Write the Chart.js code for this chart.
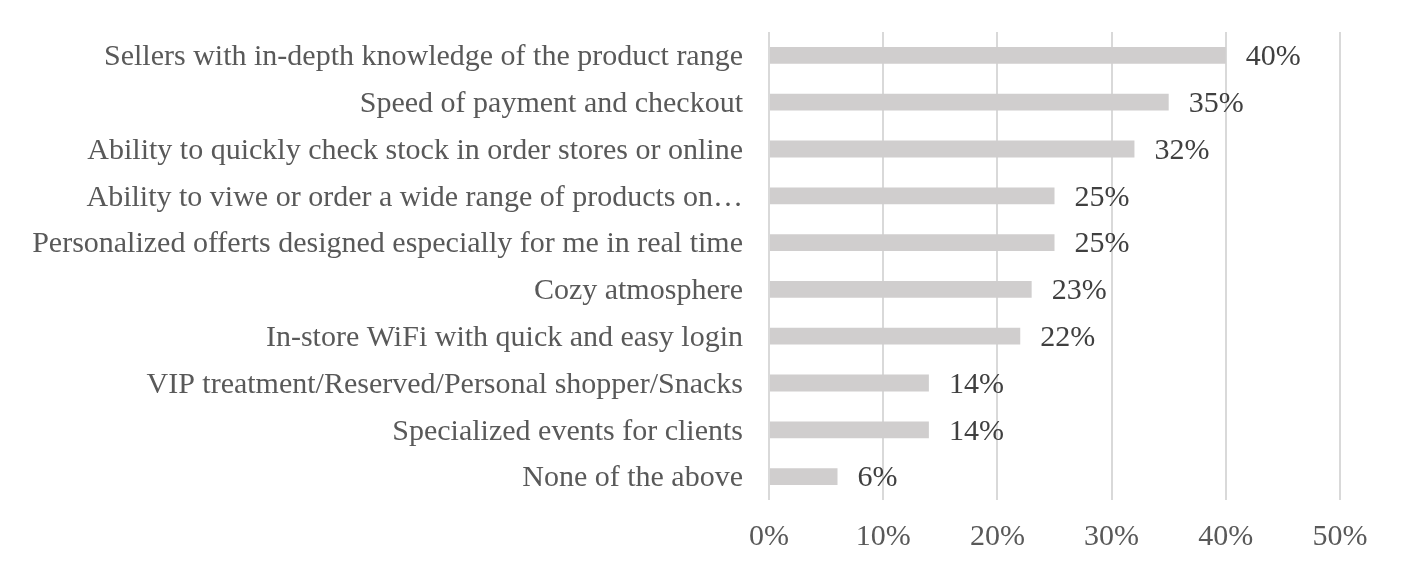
<!DOCTYPE html>
<html>
<head>
<meta charset="utf-8">
<script src="https://cdn.jsdelivr.net/npm/chart.js@4"></script>
<style>
  html, body { margin: 0; padding: 0; background: #fff; }
  #wrap { width: 1404px; height: 570px; }
</style>
</head>
<body>
<div id="wrap"><canvas id="barChart" width="1404" height="570"></canvas></div>
<script>
// Chart data
const categories = [
    'Sellers with in-depth knowledge of the product range',
    'Speed of payment and checkout',
    'Ability to quickly check stock in order stores or online',
    'Ability to viwe or order a wide range of products on\u2026',
    'Personalized offerts designed especially for me in real time',
    'Cozy atmosphere',
    'In-store WiFi with quick and easy login',
    'VIP treatment/Reserved/Personal shopper/Snacks',
    'Specialized events for clients',
    'None of the above'
];
const shares = [40, 35, 32, 25, 25, 23, 22, 14, 14, 6];
const xTicks = [0, 10, 20, 30, 40, 50];

const FONT = '"Liberation Serif", "Times New Roman", serif';

/**
 * Draw value labels to the right of each bar
 */
const valueLabels = {
    id: 'valueLabels',
    afterDatasetsDraw(chart) {
        const ctx = chart.ctx;
        const meta = chart.getDatasetMeta(0);
        ctx.save();
        ctx.font = '30px ' + FONT;
        ctx.fillStyle = '#404040';
        ctx.textAlign = 'left';
        ctx.textBaseline = 'middle';
        meta.data.forEach((bar, i) => {
            ctx.fillText(shares[i] + '%', bar.x + 20, bar.y + 2);
        });
        ctx.restore();
    }
};

new Chart(document.getElementById('barChart').getContext('2d'), {
    type: 'bar',
    data: {
        labels: categories,
        datasets: [{
            data: shares,
            backgroundColor: '#d0cece',
            borderWidth: 0,
            barPercentage: 0.36,
            categoryPercentage: 1
        }]
    },
    options: {
        indexAxis: 'y',
        responsive: false,
        animation: false,
        layout: { padding: { top: 32, right: 64, left: 0, bottom: 0 } },
        plugins: {
            legend: { display: false },
            tooltip: { enabled: false }
        },
        scales: {
            x: {
                min: 0,
                max: 50,
                afterBuildTicks(axis) {
                    axis.ticks = xTicks.map(v => ({ value: v }));
                },
                afterFit(axis) { axis.height = 70; },
                grid: {
                    color: '#d9d9d9',
                    lineWidth: 2,
                    drawTicks: false
                },
                border: { display: false },
                ticks: {
                    padding: 19,
                    color: '#595959',
                    font: { family: FONT, size: 30 },
                    callback: v => v + '%'
                }
            },
            y: {
                afterFit(axis) {
                    axis.width = 769;
                    axis.paddingTop = 0;
                    axis.paddingBottom = 0;
                },
                grid: { display: false, drawTicks: false },
                border: { display: false },
                ticks: {
                    padding: 26,
                    labelOffset: 2,
                    color: '#595959',
                    font: { family: FONT, size: 30 },
                    autoSkip: false
                }
            }
        }
    },
    plugins: [valueLabels]
});
</script>
</body>
</html>
